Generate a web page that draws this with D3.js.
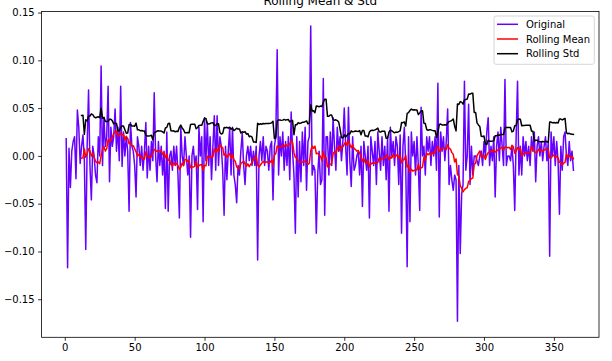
<!DOCTYPE html>
<html><head><meta charset="utf-8">
<script src="https://cdn.jsdelivr.net/npm/d3@7"></script>
<style>html,body{margin:0;padding:0;background:#fff}svg{display:block}</style>
</head><body><div id="chart"></div>
<script>
const title = "Rolling Mean & Std";
const seriesNames = ["Original", "Rolling Mean", "Rolling Std"];
const seriesColors = ["#6600ff", "#ff0000", "#000000"];
const windowSize = 12;
const firstDay = 1;
const original = [
 0.018,-0.117,0.008,-0.033,0.005,0.015,0.020,-0.024,0.048,0.030,
 -0.008,0.010,0.022,-0.005,-0.098,0.010,0.069,-0.010,-0.046,0.010,
 0.000,-0.020,-0.028,0.020,0.000,0.094,-0.010,0.040,0.010,0.020,
 0.073,-0.027,0.030,0.010,0.020,0.049,0.005,0.030,-0.005,0.073,
 -0.011,0.025,0.000,0.020,0.005,-0.058,0.035,0.010,0.005,-0.010,
 -0.043,0.020,0.010,-0.010,0.010,-0.015,0.005,0.035,-0.023,0.010,
 -0.015,0.015,-0.005,0.066,0.000,-0.027,0.015,-0.010,0.010,-0.020,
 0.005,-0.055,0.025,-0.058,0.000,0.005,-0.015,0.010,-0.010,0.010,
 -0.020,-0.065,0.030,0.000,-0.010,0.020,0.000,-0.020,0.000,-0.085,
 0.000,0.010,-0.010,0.000,-0.056,0.030,0.000,0.020,-0.069,0.040,
 -0.005,0.035,-0.010,0.020,-0.025,0.010,0.042,-0.015,0.042,-0.010,
 0.020,0.010,-0.015,-0.062,0.010,-0.025,0.005,0.029,-0.020,0.030,
 -0.020,-0.030,-0.049,-0.010,-0.020,0.005,0.024,-0.010,-0.030,0.000,
 0.010,-0.005,0.010,-0.010,0.005,-0.010,0.010,-0.109,0.000,0.015,
 -0.005,0.020,-0.010,0.010,0.005,-0.015,0.010,0.015,-0.046,0.010,
 0.020,0.111,-0.020,0.020,0.000,0.025,-0.015,0.015,-0.010,0.020,
 -0.025,0.046,0.005,-0.020,-0.081,0.020,-0.043,0.015,-0.027,0.025,
 -0.010,0.030,-0.036,0.015,0.020,0.136,-0.020,-0.010,-0.015,-0.081,
 -0.020,0.005,-0.030,-0.025,0.081,-0.062,0.020,0.020,-0.020,0.025,
 -0.010,0.040,0.010,-0.015,0.030,0.005,0.020,-0.005,0.015,0.050,
 0.010,-0.020,0.051,-0.005,-0.032,0.020,-0.015,-0.010,0.000,0.005,
 -0.020,0.010,-0.053,0.015,0.000,-0.015,0.010,-0.065,0.020,0.005,
 -0.010,0.015,-0.030,0.025,0.005,-0.015,0.020,-0.010,0.010,-0.025,
 0.020,-0.058,0.030,0.000,0.015,-0.010,0.020,0.010,-0.030,0.022,
 -0.081,0.010,0.030,-0.010,-0.116,0.020,-0.069,0.025,0.000,0.015,
 -0.020,0.020,-0.010,-0.057,0.051,0.000,0.010,-0.020,0.020,0.005,
 0.020,-0.010,0.015,0.000,0.020,-0.015,0.076,-0.064,0.025,0.005,
 0.020,-0.005,0.015,0.049,-0.030,-0.010,-0.025,-0.036,-0.020,-0.025,
 -0.173,-0.010,-0.102,-0.040,-0.030,0.078,-0.015,0.000,0.054,-0.030,
 0.010,-0.020,0.000,0.000,-0.005,-0.010,0.000,0.005,-0.010,0.015,
 0.000,0.025,0.040,-0.010,0.010,-0.005,0.020,-0.043,0.010,0.025,
 -0.005,0.030,0.010,-0.010,0.080,-0.010,0.000,0.000,-0.005,0.010,
 -0.010,-0.057,0.020,0.078,-0.020,0.010,-0.020,0.020,0.000,0.015,
 -0.005,0.010,-0.010,0.020,0.005,0.025,-0.027,0.010,0.020,0.000,
 0.015,-0.005,0.010,0.020,-0.005,0.015,-0.105,0.025,0.000,0.020,
 -0.010,0.015,-0.005,-0.061,0.010,-0.015,0.020,0.025,0.000,-0.010,
 0.015,-0.005,0.005,-0.015
];
const xTicks = [0, 50, 100, 150, 200, 250, 300, 350];
const yTicks = [-0.15, -0.10, -0.05, 0.00, 0.05, 0.10, 0.15];

const W = 612, H = 361;
const M = {left: 41.6, right: 599, top: 11.5, bottom: 337.3};

const days = original.map((v, i) => firstDay + i);
const rows = original.map((v, i) => ({x: days[i], y: v}));
const rollMean = [], rollStd = [];
for (let i = windowSize - 1; i < original.length; i++) {
  const w = original.slice(i - windowSize + 1, i + 1);
  rollMean.push({x: days[i], y: d3.mean(w)});
  rollStd.push({x: days[i], y: d3.deviation(w)});
}

const svg = d3.select("#chart").append("svg").attr("width", W).attr("height", H)
  .style("font-family", "'DejaVu Sans', sans-serif");

const x = d3.scaleLinear().domain([-16.6, 382.3]).range([M.left, M.right]);
const y = d3.scaleLinear().domain([-0.1898, 0.1511]).range([M.bottom, M.top]);

svg.append("defs").append("clipPath").attr("id", "clip").append("rect")
  .attr("x", M.left).attr("y", M.top).attr("width", M.right - M.left).attr("height", M.bottom - M.top);

const line = d3.line().x(d => x(d.x)).y(d => y(d.y));
const g = svg.append("g").attr("clip-path", "url(#clip)");
[rows, rollMean, rollStd].forEach((data, k) => {
  g.append("path").datum(data).attr("d", line).attr("fill", "none")
    .attr("stroke", seriesColors[k]).attr("stroke-width", 1.5)
    .attr("stroke-linejoin", "round").attr("stroke-linecap", "square");
});

// axes
const fmtY = v => d3.format(".2f")(v).replace("-", "\u2212");
const xAxis = d3.axisBottom(x).tickValues(xTicks).tickSize(3.5).tickPadding(3.5).tickFormat(d3.format("d"));
const yAxis = d3.axisLeft(y).tickValues(yTicks).tickSize(3.5).tickPadding(3.5).tickFormat(fmtY);
const gx = svg.append("g").attr("transform", `translate(0,${M.bottom})`).call(xAxis);
const gy = svg.append("g").attr("transform", `translate(${M.left},0)`).call(yAxis);
[gx, gy].forEach(a => {
  a.select(".domain").remove();
  a.selectAll(".tick line").attr("stroke", "#000").attr("stroke-width", 0.8);
  a.selectAll("text").attr("fill", "#000").style("font-size", "10px").style("font-family", "'DejaVu Sans', sans-serif");
});
svg.append("rect").attr("x", M.left).attr("y", M.top).attr("width", M.right - M.left)
  .attr("height", M.bottom - M.top).attr("fill", "none").attr("stroke", "#000").attr("stroke-width", 0.8);

svg.append("text").attr("x", (M.left + M.right) / 2).attr("y", 5).attr("text-anchor", "middle")
  .style("font-size", "12px").attr("fill", "#000").text(title);

// legend
const lg = svg.append("g");
lg.append("rect").attr("x", 494).attr("y", 16).attr("width", 100.3).attr("height", 48.3)
  .attr("rx", 2).attr("fill", "#fff").attr("fill-opacity", 0.8).attr("stroke", "#cccccc").attr("stroke-width", 0.8);
seriesNames.forEach((n, k) => {
  const cy = 24.3 + k * 14.7;
  lg.append("line").attr("x1", 497).attr("x2", 518).attr("y1", cy).attr("y2", cy)
    .attr("stroke", seriesColors[k]).attr("stroke-width", 1.5);
  lg.append("text").attr("x", 526).attr("y", cy + 3.6).style("font-size", "10px").attr("fill", "#000").text(n);
});
</script></body></html>
